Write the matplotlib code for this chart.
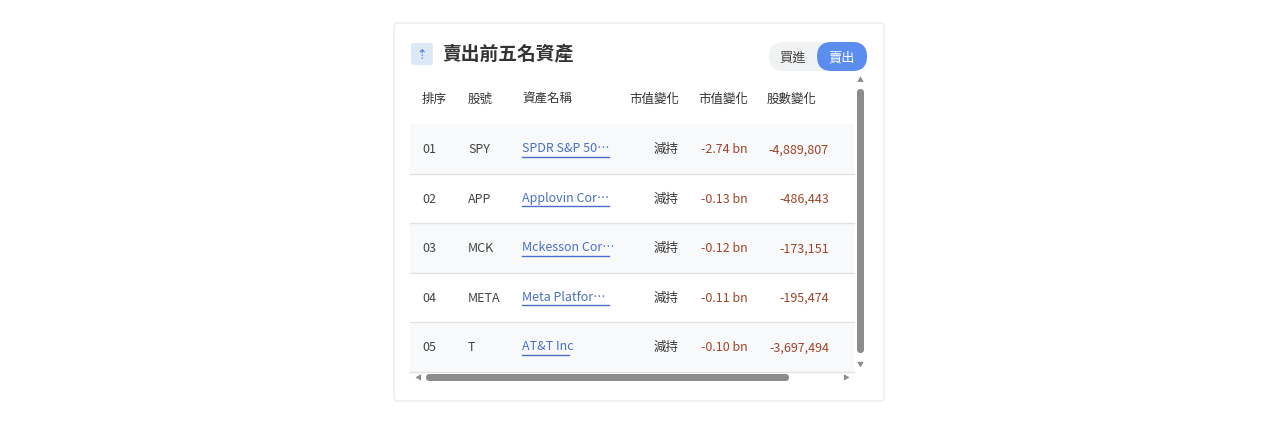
import matplotlib
matplotlib.use("Agg")
import matplotlib.pyplot as plt
from matplotlib.patches import FancyBboxPatch, Rectangle

plt.rcParams["font.family"] = ["Noto Sans CJK TC", "DejaVu Sans"]

title = "賣出前五名資產"
headers = ["排序", "股號", "資產名稱", "市值變化", "市值變化", "股數變化"]
ranks = ["01", "02", "03", "04", "05"]
tickers = ["SPY", "APP", "MCK", "META", "T"]
names = ["SPDR S&P 50⋯", "Applovin Cor⋯", "Mckesson Cor⋯", "Meta Platfor⋯", "AT&T Inc"]
actions = ["減持", "減持", "減持", "減持", "減持"]
value_change = ["-2.74 bn", "-0.13 bn", "-0.12 bn", "-0.11 bn", "-0.10 bn"]
share_change = ["-4,889,807", "-486,443", "-173,151", "-195,474", "-3,697,494"]

W, H = 1280, 427
fig = plt.figure(figsize=(W/100, H/100), dpi=100)
ax = fig.add_axes([0, 0, 1, 1])
ax.set_xlim(0, W); ax.set_ylim(H, 0); ax.axis("off")

# card
ax.add_patch(FancyBboxPatch((394, 24), 490, 378, boxstyle="round,pad=0,rounding_size=4",
             fc="white", ec="#ececec", lw=1.0))
# icon
ax.add_patch(FancyBboxPatch((411, 44), 22, 22, boxstyle="round,pad=0,rounding_size=3",
             fc="#dde8f7", ec="none"))
ax.text(422, 55.5, "⇡", color="#4a7fd4", fontsize=9, ha="center", va="center")
ax.text(442, 55, title, fontsize=13.5, fontweight="bold", color="#333333", va="center")
# toggle
ax.add_patch(FancyBboxPatch((769, 43), 98, 29, boxstyle="round,pad=0,rounding_size=14.5",
             fc="#f1f2f4", ec="none"))
ax.add_patch(FancyBboxPatch((817, 43), 50, 29, boxstyle="round,pad=0,rounding_size=14.5",
             fc="#5b8def", ec="none"))
ax.text(793, 58, "買進", fontsize=9.5, color="#444444", ha="center", va="center")
ax.text(842, 58, "賣出", fontsize=9.5, color="white", ha="center", va="center", fontweight="medium")

# headers
hx = [422, 468, 522, 679, 748, 817]
ha_h = ["left", "left", "left", "right", "right", "right"]
for x, h, a in zip(hx, headers, ha_h):
    ax.text(x, 99, h, fontsize=9, color="#333333", ha=a, va="center", fontweight="medium")

top, rh = 125, 49.5
for i in range(len(ranks)):
    y0 = top + i*rh
    yc = y0 + rh/2
    if i % 2 == 0:
        ax.add_patch(Rectangle((410, y0), 444, rh, fc="#f8f9fa", ec="none"))
    ax.plot([410, 854], [y0+rh, y0+rh], color="#e2e2e2", lw=1)
    ax.text(422, yc, ranks[i], fontsize=9, color="#444444", va="center")
    ax.text(468, yc, tickers[i], fontsize=9, color="#444444", va="center")
    ax.text(522, yc-1, names[i], fontsize=9, color="#4a6fc4", va="center")
    nw = 87 if i < 4 else 47
    ax.plot([522, 522+nw], [yc+8, yc+8], color="#4a6fc4", lw=1)
    ax.text(679, yc, actions[i], fontsize=9, color="#333333", ha="right", va="center", fontweight="medium")
    ax.text(748, yc, value_change[i], fontsize=9, color="#a0442a", ha="right", va="center", fontweight="medium")
    ax.text(829, yc, share_change[i], fontsize=9, color="#a0442a", ha="right", va="center", fontweight="medium")

# scrollbars
ax.add_patch(FancyBboxPatch((857, 90), 7, 264, boxstyle="round,pad=0,rounding_size=3.5", fc="#8c8c8c", ec="none"))
ax.text(860.5, 80, "▲", fontsize=5, color="#8c8c8c", ha="center", va="center")
ax.text(860.5, 365, "▼", fontsize=5, color="#8c8c8c", ha="center", va="center")
ax.add_patch(FancyBboxPatch((426, 375), 363, 7, boxstyle="round,pad=0,rounding_size=3.5", fc="#8c8c8c", ec="none"))
ax.text(418, 378.5, "◀", fontsize=5, color="#8c8c8c", ha="center", va="center")
ax.text(846, 378.5, "▶", fontsize=5, color="#8c8c8c", ha="center", va="center")

fig.savefig("out.png", dpi=100)
